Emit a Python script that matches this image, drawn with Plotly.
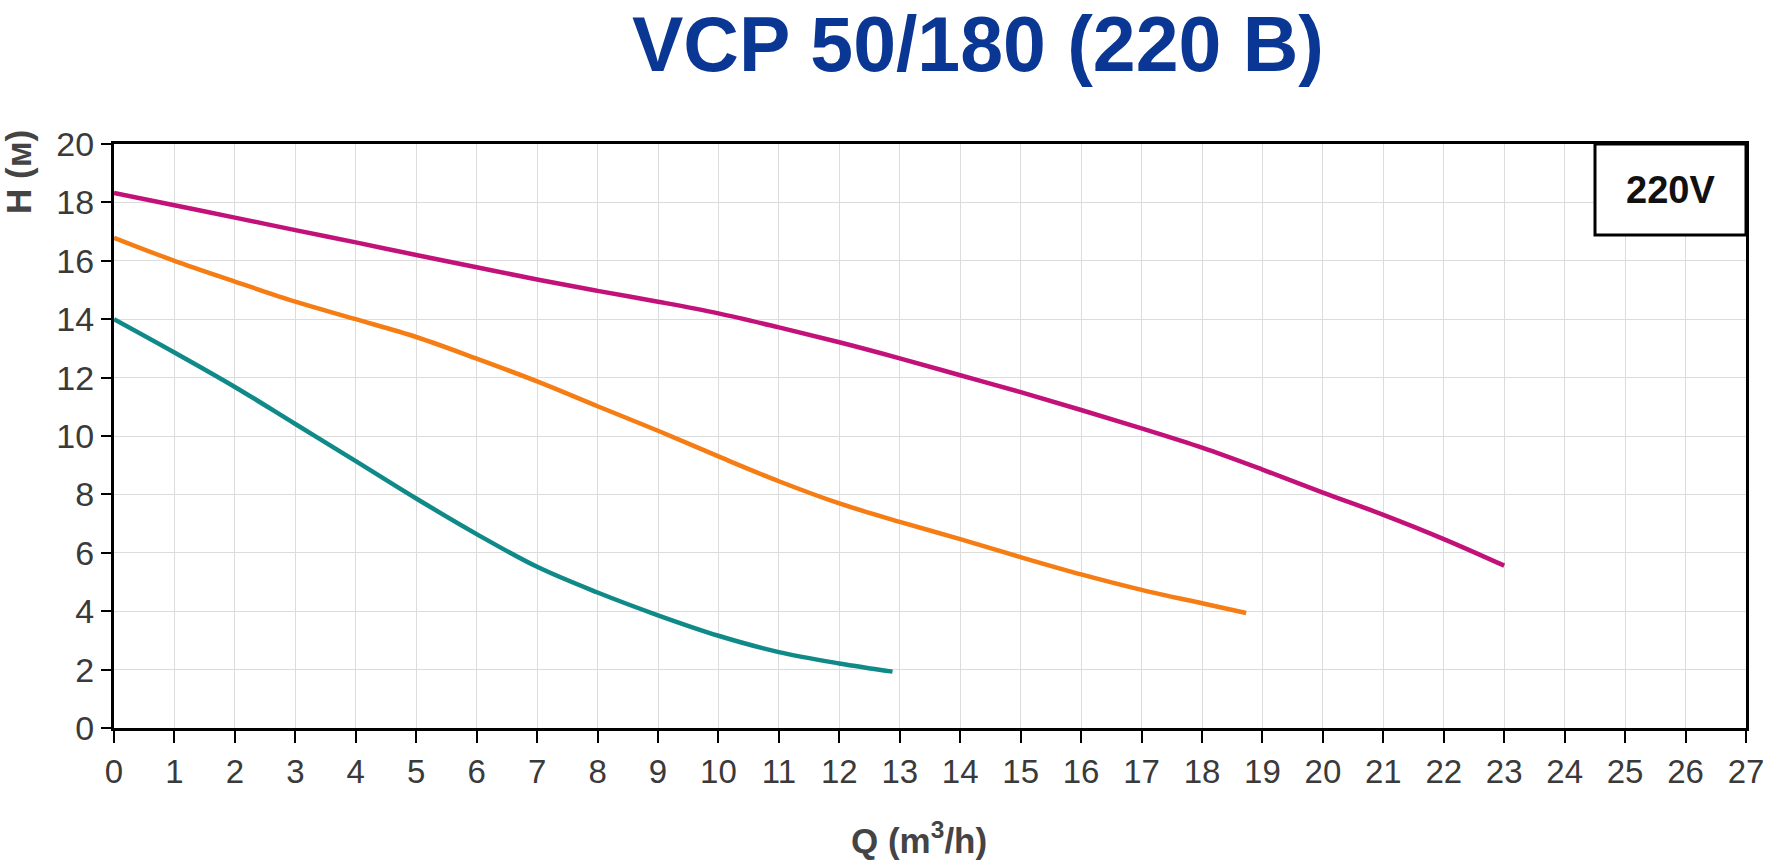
import plotly.graph_objects as go

# ---- data ----
q_teal = [0, 1, 2, 3, 4, 5, 6, 7, 8, 9, 10, 11, 12, 12.88]
h_teal = [14.0, 12.86, 11.68, 10.41, 9.14, 7.86, 6.64, 5.52, 4.64, 3.86, 3.16, 2.6, 2.21, 1.93]

q_orange = [0, 1, 2, 3, 4, 5, 6, 7, 8, 9, 10, 11, 12, 13, 14, 15, 16, 17, 18, 18.73]
h_orange = [16.79, 16.0, 15.29, 14.6, 14.0, 13.39, 12.65, 11.87, 11.02, 10.18, 9.3, 8.45,
            7.69, 7.06, 6.47, 5.85, 5.26, 4.73, 4.27, 3.94]

q_magenta = list(range(0, 24))
h_magenta = [18.32, 17.9, 17.48, 17.05, 16.63, 16.2, 15.78, 15.36, 14.97, 14.6, 14.2, 13.72,
             13.21, 12.66, 12.08, 11.5, 10.89, 10.26, 9.6, 8.85, 8.06, 7.3, 6.47, 5.56]

x_ticks = list(range(0, 28))
y_ticks = list(range(0, 21, 2))

title_text = "VCP 50/180 (220 B)"
voltage_label = "220V"
x_title = "Q (m<sup>3</sup>/h)"
y_title = "H (м)"

# ---- figure ----
fig = go.Figure()
for q, h, c in [(q_teal, h_teal, "#0f8a88"),
                (q_orange, h_orange, "#f57d14"),
                (q_magenta, h_magenta, "#c2127a")]:
    fig.add_trace(go.Scatter(x=q, y=h, mode="lines",
                             line=dict(color=c, width=4.5, shape="spline", smoothing=1.0),
                             showlegend=False, hoverinfo="skip"))

L, R, T, B = 114, 23, 144, 135
W, H = 1769, 863
pw = W - L - R
ph = H - T - B

def px_x(px):
    return (px - L) / pw

def px_y(py):
    return (H - B - py) / ph

fig.update_layout(
    width=W, height=H,
    margin=dict(l=L, r=R, t=T, b=B, autoexpand=False),
    paper_bgcolor="white", plot_bgcolor="white",
    font=dict(family="Liberation Sans, Arial, sans-serif", color="#333333"),
)

fig.update_xaxes(
    range=[0, 27], tickvals=x_ticks, ticktext=[str(v) for v in x_ticks],
    showgrid=True, gridcolor="#dcdcdc", gridwidth=1,
    showline=True, linecolor="black", linewidth=3, mirror=True,
    ticks="outside", ticklen=12, tickwidth=2, tickcolor="black",
    tickfont=dict(family="Liberation Sans, Arial, sans-serif", size=33, color="#3a3a3a"),
    zeroline=False, automargin=False,
)
fig.update_yaxes(
    range=[0, 20], tickvals=y_ticks, ticktext=[str(v) for v in y_ticks],
    showgrid=True, gridcolor="#dcdcdc", gridwidth=1,
    showline=True, linecolor="black", linewidth=3, mirror=True,
    ticks="outside", ticklen=10, tickwidth=2, tickcolor="black",
    tickfont=dict(family="Liberation Sans, Arial, sans-serif", size=34, color="#3a3a3a"),
    zeroline=False, automargin=False,
)

# title
fig.add_annotation(text="<b>" + title_text + "</b>", xref="paper", yref="paper",
                   x=px_x(978), y=px_y(44), xanchor="center", yanchor="middle",
                   showarrow=False,
                   font=dict(family="Liberation Sans, Arial, sans-serif",
                             size=77, color="#0b3794"))
# axis titles
fig.add_annotation(text="<b>" + x_title + "</b>", xref="paper", yref="paper",
                   x=px_x(919), y=px_y(838), xanchor="center", yanchor="middle",
                   showarrow=False,
                   font=dict(family="Liberation Sans, Arial, sans-serif", size=35, color="#444444"))
fig.add_annotation(text="<b>" + y_title + "</b>", xref="paper", yref="paper",
                   x=px_x(19), y=px_y(172), xanchor="center", yanchor="middle",
                   textangle=-90, showarrow=False,
                   font=dict(family="Liberation Sans, Arial, sans-serif", size=35, color="#444444"))

# voltage box
fig.add_shape(type="rect", xref="paper", yref="paper",
              x0=px_x(1595), x1=1, y0=px_y(235), y1=1,
              line=dict(color="black", width=3), fillcolor="white", layer="above")
fig.add_annotation(text="<b>" + voltage_label + "</b>", xref="paper", yref="paper",
                   x=(px_x(1595) + 1) / 2, y=(px_y(235) + 1) / 2,
                   xanchor="center", yanchor="middle", showarrow=False,
                   font=dict(family="Liberation Sans, Arial, sans-serif", size=38, color="#111111"))

fig.write_html("out.html")
